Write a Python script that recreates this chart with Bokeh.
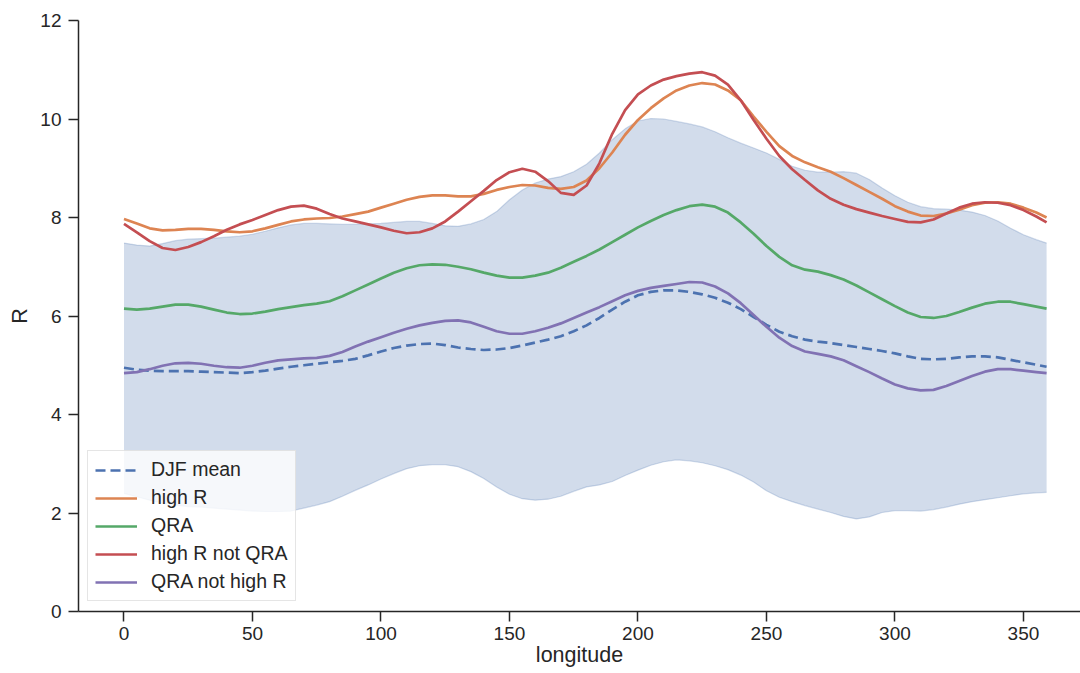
from bokeh.plotting import figure
from bokeh.models import Range1d, Legend, LegendItem, FixedTicker, ColumnDataSource
from bokeh.embed import file_html
from bokeh.resources import INLINE

longitude = [0, 5, 10, 15, 20, 25, 30, 35, 40, 45, 50, 55, 60, 65, 70, 75, 80, 85, 90, 95,
             100, 105, 110, 115, 120, 125, 130, 135, 140, 145, 150, 155, 160, 165, 170, 175,
             180, 185, 190, 195, 200, 205, 210, 215, 220, 225, 230, 235, 240, 245, 250, 255,
             260, 265, 270, 275, 280, 285, 290, 295, 300, 305, 310, 315, 320, 325, 330, 335,
             340, 345, 350, 355, 359]

high_r = [7.97, 7.88, 7.78, 7.74, 7.75, 7.77, 7.77, 7.75, 7.72, 7.70, 7.72, 7.78, 7.85, 7.92,
          7.96, 7.98, 7.99, 8.02, 8.07, 8.12, 8.20, 8.28, 8.36, 8.42, 8.45, 8.45, 8.43, 8.43,
          8.48, 8.56, 8.62, 8.66, 8.65, 8.60, 8.58, 8.62, 8.75, 9.00, 9.32, 9.68, 9.98, 10.22,
          10.42, 10.58, 10.68, 10.73, 10.70, 10.58, 10.38, 10.05, 9.74, 9.45, 9.25, 9.12, 9.02,
          8.93, 8.80, 8.66, 8.52, 8.38, 8.23, 8.12, 8.04, 8.03, 8.08, 8.16, 8.25, 8.30, 8.31,
          8.28, 8.20, 8.10, 8.00]

high_r_not_qra = [7.87, 7.70, 7.52, 7.38, 7.34, 7.40, 7.50, 7.62, 7.75, 7.86, 7.95, 8.05, 8.15,
                  8.22, 8.24, 8.18, 8.07, 7.98, 7.92, 7.86, 7.80, 7.73, 7.68, 7.70, 7.78, 7.92,
                  8.12, 8.33, 8.54, 8.76, 8.92, 8.99, 8.93, 8.74, 8.50, 8.46, 8.65, 9.10, 9.70,
                  10.18, 10.50, 10.68, 10.80, 10.87, 10.92, 10.95, 10.88, 10.70, 10.38, 9.98,
                  9.60, 9.25, 8.98, 8.76, 8.55, 8.38, 8.26, 8.17, 8.10, 8.03, 7.97, 7.91, 7.90,
                  7.96, 8.08, 8.20, 8.28, 8.31, 8.30, 8.25, 8.15, 8.02, 7.90]

qra = [6.15, 6.13, 6.15, 6.19, 6.23, 6.23, 6.19, 6.13, 6.07, 6.04, 6.05, 6.09, 6.14, 6.18,
       6.22, 6.25, 6.30, 6.40, 6.52, 6.64, 6.76, 6.88, 6.97, 7.03, 7.05, 7.04, 7.00, 6.95,
       6.88, 6.82, 6.78, 6.78, 6.82, 6.88, 6.98, 7.10, 7.22, 7.35, 7.50, 7.65, 7.80, 7.93,
       8.05, 8.15, 8.23, 8.26, 8.22, 8.10, 7.90, 7.67, 7.42, 7.20, 7.03, 6.94, 6.90, 6.83,
       6.74, 6.62, 6.48, 6.34, 6.20, 6.07, 5.98, 5.96, 6.00, 6.08, 6.17, 6.25, 6.29, 6.29,
       6.24, 6.19, 6.15]

qra_not_high_r = [4.84, 4.86, 4.92, 4.99, 5.04, 5.05, 5.03, 4.99, 4.96, 4.95, 4.99, 5.05, 5.10,
                  5.12, 5.14, 5.15, 5.19, 5.27, 5.38, 5.48, 5.57, 5.66, 5.74, 5.81, 5.86, 5.90,
                  5.91, 5.87, 5.78, 5.69, 5.64, 5.64, 5.69, 5.76, 5.85, 5.96, 6.07, 6.18, 6.30,
                  6.42, 6.51, 6.57, 6.61, 6.65, 6.69, 6.68, 6.60, 6.46, 6.26, 6.02, 5.78, 5.56,
                  5.39, 5.28, 5.23, 5.18, 5.10, 4.98, 4.86, 4.73, 4.61, 4.53, 4.49, 4.50, 4.58,
                  4.68, 4.78, 4.87, 4.92, 4.92, 4.89, 4.86, 4.84]

djf_mean = [4.95, 4.91, 4.89, 4.88, 4.88, 4.88, 4.87, 4.86, 4.85, 4.84, 4.86, 4.89, 4.93, 4.97,
            5.00, 5.03, 5.06, 5.09, 5.13, 5.20, 5.28, 5.35, 5.40, 5.43, 5.44, 5.41, 5.36, 5.33,
            5.31, 5.32, 5.35, 5.40, 5.46, 5.52, 5.59, 5.69, 5.81, 5.96, 6.13, 6.29, 6.42, 6.49,
            6.52, 6.52, 6.49, 6.44, 6.37, 6.27, 6.14, 5.98, 5.82, 5.68, 5.59, 5.52, 5.48, 5.45,
            5.41, 5.37, 5.33, 5.29, 5.24, 5.18, 5.13, 5.12, 5.13, 5.16, 5.18, 5.18, 5.16, 5.11,
            5.06, 5.01, 4.97]

djf_upper = [7.48, 7.44, 7.42, 7.47, 7.53, 7.56, 7.57, 7.58, 7.60, 7.62, 7.66, 7.72, 7.79, 7.85,
             7.88, 7.88, 7.87, 7.86, 7.86, 7.87, 7.88, 7.90, 7.92, 7.92, 7.88, 7.83, 7.82, 7.87,
             7.96, 8.12, 8.36, 8.56, 8.70, 8.78, 8.83, 8.93, 9.08, 9.31, 9.58, 9.80, 9.96, 10.01,
             10.00, 9.95, 9.90, 9.84, 9.74, 9.62, 9.51, 9.41, 9.31, 9.18, 9.04, 8.96, 8.92, 8.92,
             8.93, 8.90, 8.77, 8.60, 8.44, 8.31, 8.22, 8.18, 8.17, 8.15, 8.11, 8.04, 7.93, 7.78,
             7.65, 7.55, 7.48]

djf_lower = [2.40, 2.33, 2.26, 2.20, 2.16, 2.13, 2.12, 2.10, 2.08, 2.06, 2.04, 2.03, 2.03, 2.04,
             2.10, 2.16, 2.23, 2.34, 2.46, 2.57, 2.69, 2.80, 2.90, 2.96, 2.98, 2.98, 2.94, 2.84,
             2.70, 2.53, 2.38, 2.29, 2.26, 2.28, 2.34, 2.44, 2.53, 2.57, 2.64, 2.76, 2.87, 2.97,
             3.04, 3.08, 3.06, 3.02, 2.96, 2.88, 2.77, 2.63, 2.45, 2.32, 2.23, 2.15, 2.08, 2.01,
             1.93, 1.88, 1.92, 2.01, 2.05, 2.05, 2.04, 2.07, 2.12, 2.18, 2.23, 2.27, 2.31, 2.35,
             2.39, 2.41, 2.42]

x_ticks = [0, 50, 100, 150, 200, 250, 300, 350]
y_ticks = [0, 2, 4, 6, 8, 10, 12]

series = [
    ("DJF mean", djf_mean, "#4C72B0", "10 5"),
    ("high R", high_r, "#DD8452", "solid"),
    ("QRA", qra, "#55A868", "solid"),
    ("high R not QRA", high_r_not_qra, "#C44E52", "solid"),
    ("QRA not high R", qra_not_high_r, "#8172B3", "solid"),
]

FONT = "Liberation Sans"
TXT = "#262626"

src = ColumnDataSource(dict(x=longitude, lo=djf_lower, hi=djf_upper))

p = figure(width=1080, height=673, output_backend="svg", toolbar_location=None,
           x_range=Range1d(-17.7, 372.2), y_range=Range1d(0, 12),
           min_border_left=78, min_border_right=0, min_border_top=20, min_border_bottom=62)
p.outline_line_color = None
p.xgrid.visible = False
p.ygrid.visible = False
p.background_fill_color = "white"
p.border_fill_color = "white"

p.varea(x="x", y1="lo", y2="hi", source=src, fill_color="#4C72B0", fill_alpha=0.25)
p.line(x="x", y="hi", source=src, line_color="#4C72B0", line_alpha=0.25, line_width=1.2)
p.line(x="x", y="lo", source=src, line_color="#4C72B0", line_alpha=0.25, line_width=1.2)

items = []
for name, ys, color, dash in series:
    r = p.line(longitude, ys, line_color=color, line_width=2.7, line_dash=dash,
               line_join="round")
    items.append(LegendItem(label=name, renderers=[r]))

legend = Legend(items=items, location=(9, 10))
legend.label_text_font = FONT
legend.label_text_font_size = "19.5px"
legend.label_text_color = TXT
legend.glyph_width = 42
legend.glyph_height = 22
legend.label_height = 22
legend.spacing = 5
legend.padding = 7
legend.margin = 0
legend.label_standoff = 14
legend.border_line_color = "#cccccc"
legend.border_line_width = 1
legend.background_fill_color = "white"
legend.background_fill_alpha = 0.8
p.add_layout(legend)

for ax in (p.xaxis[0], p.yaxis[0]):
    ax.axis_line_color = TXT
    ax.axis_line_width = 1.5
    ax.major_tick_line_color = TXT
    ax.major_tick_line_width = 1.5
    ax.major_tick_out = 10
    ax.major_tick_in = 0
    ax.minor_tick_line_color = None
    ax.major_label_text_font = FONT
    ax.major_label_text_font_size = "19px"
    ax.major_label_text_color = TXT
    ax.axis_label_text_font = FONT
    ax.axis_label_text_font_size = "21.5px"
    ax.axis_label_text_font_style = "normal"
    ax.axis_label_text_color = TXT

p.xaxis[0].ticker = FixedTicker(ticks=x_ticks)
p.yaxis[0].ticker = FixedTicker(ticks=y_ticks)
p.xaxis[0].axis_label = "longitude"
p.yaxis[0].axis_label = "R"
p.xaxis[0].major_label_standoff = 5
p.yaxis[0].major_label_standoff = 7
p.xaxis[0].axis_label_standoff = 0
p.yaxis[0].axis_label_standoff = 5

open("out.html", "w").write(file_html(p, INLINE))
